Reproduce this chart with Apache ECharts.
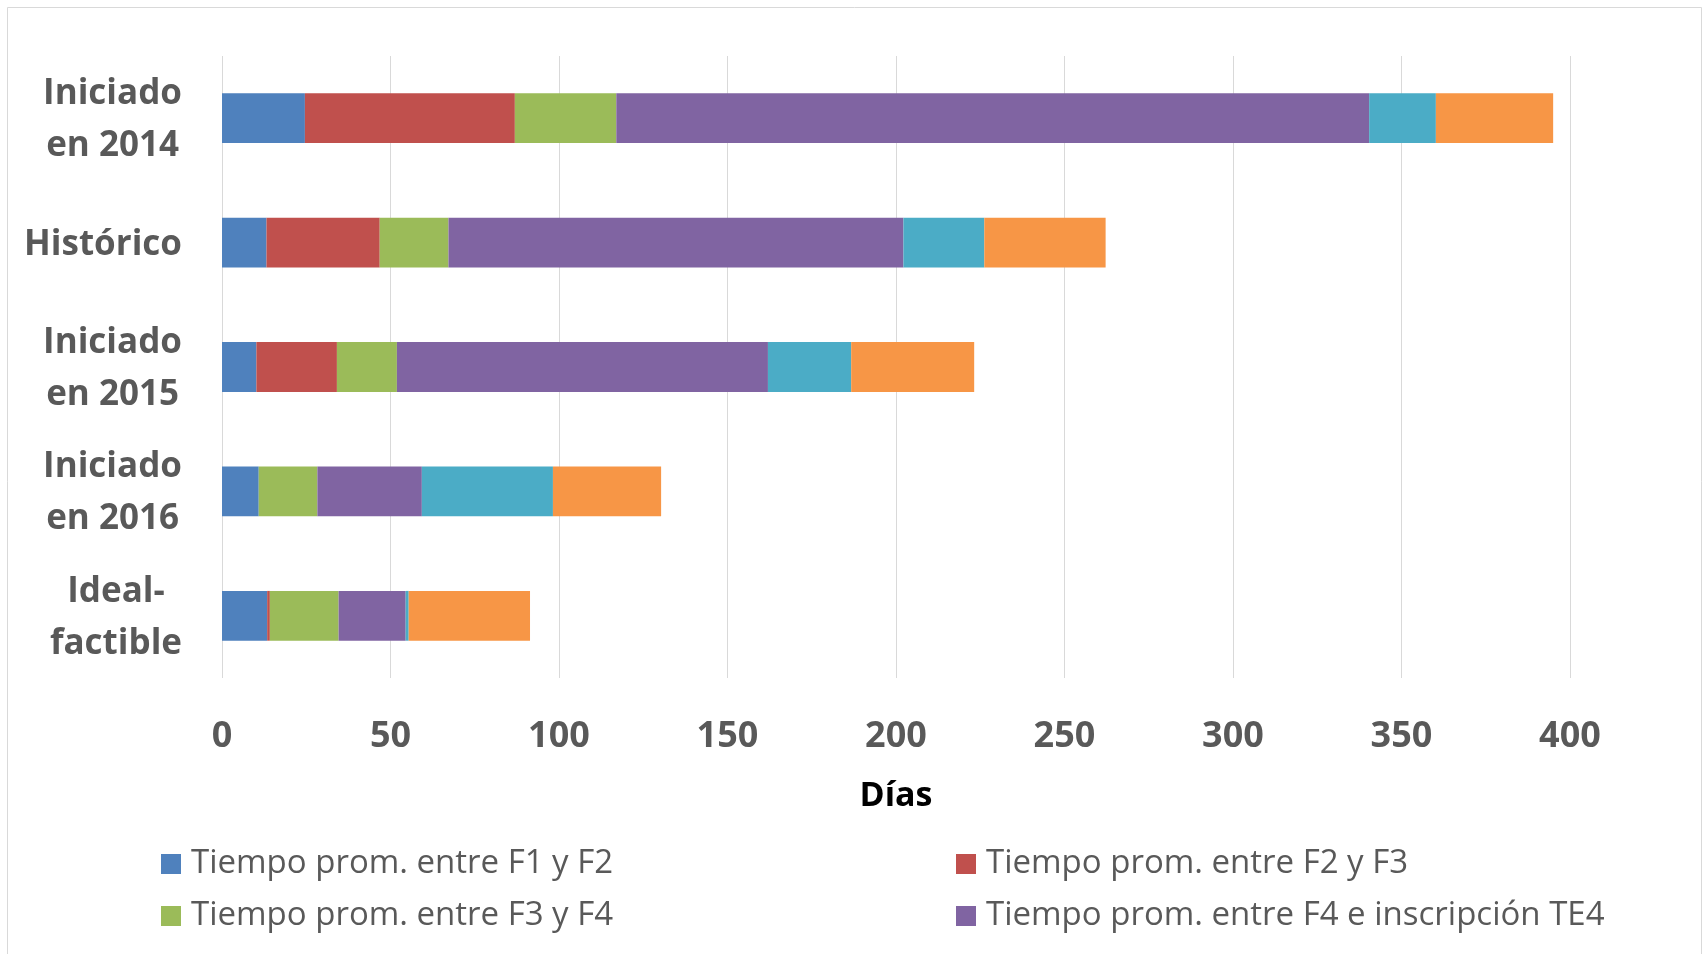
<!DOCTYPE html>
<html>
<head>
<meta charset="utf-8">
<style>
  html, body { margin: 0; padding: 0; background: #ffffff; }
  #chart { width: 1706px; height: 954px; }
</style>
<script src="https://cdn.jsdelivr.net/npm/echarts@6/dist/echarts.min.js"></script>
</head>
<body>
<div id="chart"></div>
<script>
// Stages of the process, in days, for each group of cases
const categories = ['Iniciado\nen 2014', 'Histórico', 'Iniciado\nen 2015', 'Iniciado\nen 2016', 'Ideal-\nfactible'];

const seriesNames = [
  'Tiempo prom. entre F1 y F2',
  'Tiempo prom. entre F2 y F3',
  'Tiempo prom. entre F3 y F4',
  'Tiempo prom. entre F4 e inscripción TE4',
  'Tiempo prom. entre inscripción TE4 y F5',
  'Tiempo prom. entre F5 y término'
];

const tiempoF1F2   = [24.6, 13.2, 10.2, 10.9, 13.4];
const tiempoF2F3   = [62.3, 33.6, 23.9, 0, 0.8];
const tiempoF3F4   = [30.1, 20.4, 17.8, 17.4, 20.4];
const tiempoF4TE4  = [223.4, 135.0, 110.1, 31.0, 19.9];
const tiempoTE4F5  = [19.8, 24.0, 24.7, 38.9, 0.9];
const tiempoF5Fin  = [34.8, 36.0, 36.5, 32.1, 36.0];

const seriesValues = [tiempoF1F2, tiempoF2F3, tiempoF3F4, tiempoF4TE4, tiempoTE4F5, tiempoF5Fin];
const colors = ['#4F81BD', '#C0504D', '#9BBB59', '#8064A2', '#4BACC6', '#F79646'];

const xTicks = { min: 0, max: 400, interval: 50 };

const FONT = '"Open Sans", "Noto Sans", sans-serif';
const GREY = '#595959';

const chart = echarts.init(document.getElementById('chart'), null, { renderer: 'canvas' });

const legendText = { fontFamily: FONT, fontSize: 33, color: GREY, lineHeight: 40, padding: [0, 0, 0, 5] };

chart.setOption({
  animation: false,
  backgroundColor: '#ffffff',
  color: colors,
  graphic: [{
    type: 'rect',
    shape: { x: 7.5, y: 7.5, width: 1694, height: 1000 },
    style: { fill: 'none', stroke: '#d9d9d9', lineWidth: 1 },
    silent: true
  }],
  grid: { left: 222, right: 136, top: 56, bottom: 276, containLabel: false },
  legend: [
    {
      orient: 'vertical', left: 161, top: 844, padding: 0,
      itemWidth: 20, itemHeight: 20, itemGap: 12,
      icon: 'rect', textStyle: legendText,
      data: [seriesNames[0], seriesNames[2]]
    },
    {
      orient: 'vertical', left: 956, top: 844, padding: 0,
      itemWidth: 20, itemHeight: 20, itemGap: 12,
      icon: 'rect', textStyle: legendText,
      data: [seriesNames[1], seriesNames[3]]
    }
  ],
  xAxis: {
    type: 'value',
    min: xTicks.min, max: xTicks.max, interval: xTicks.interval,
    name: 'Días',
    nameLocation: 'middle',
    nameGap: 101,
    nameTextStyle: { fontFamily: FONT, fontSize: 34, fontWeight: 'bold', color: '#000000' },
    axisLine: { show: false },
    axisTick: { show: false },
    splitLine: { show: true, lineStyle: { color: '#d9d9d9', width: 1 } },
    axisLabel: { fontFamily: FONT, fontSize: 36, fontWeight: 'bold', color: GREY, margin: 41 }
  },
  yAxis: {
    type: 'category',
    inverse: true,
    data: categories,
    axisLine: { show: false },
    axisTick: { show: false },
    splitLine: { show: false },
    axisLabel: {
      align: 'right',
      margin: 40,
      padding: [4, 0, 0, 0],
      formatter: v => v.split('\n').map(l => '{c|' + l + '}').join('\n'),
      rich: {
        c: { align: 'center', fontFamily: FONT, fontSize: 35, fontWeight: 'bold', color: GREY, lineHeight: 52 }
      }
    }
  },
  series: seriesNames.map((name, i) => ({
    name: name,
    type: 'bar',
    stack: 'total',
    barWidth: '40%',
    data: seriesValues[i],
    itemStyle: { color: colors[i] }
  }))
});
</script>
</body>
</html>
